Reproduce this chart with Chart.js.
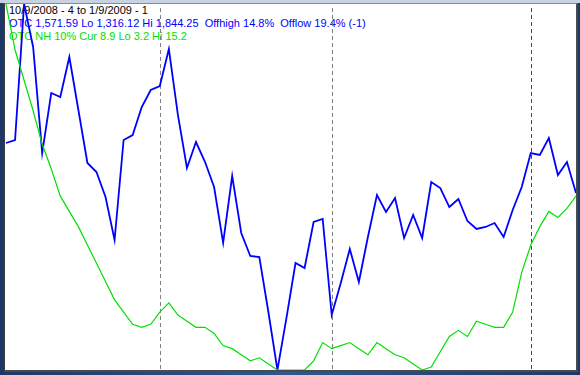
<!DOCTYPE html>
<html>
<head>
<meta charset="utf-8">
<script src="https://cdn.jsdelivr.net/npm/chart.js@4/dist/chart.umd.min.js"></script>
<style>
  html, body { margin: 0; padding: 0; }
  body { width: 580px; height: 375px; overflow: hidden; position: relative;
         background: linear-gradient(90deg, #1d3868, #2f5790 50%, #1d3868); }
  #topstrip { position: absolute; left: 0; top: 0; width: 580px; height: 3px; background: #c9d2e3; }
  #frame { position: absolute; left: 4px; top: 3px; width: 571px; height: 366px; background: #fff;
           border-top: 1px solid #8a8a8a; border-left: 1px solid #3c3c3c;
           border-right: 2px solid #4a4a4a; border-bottom: 2px solid #4a4a4a; overflow: hidden; }
  #info { position: absolute; left: 4px; top: 0px; font: 11px "Liberation Sans", Arial, sans-serif;
          line-height: 13px; white-space: pre; z-index: 0; }
  #wrap { position: absolute; left: 0; top: 0; width: 572px; height: 366px; z-index: 1; }
</style>
</head>
<body>
<div id="topstrip"></div>
<div id="frame">
  <div id="info"><div style="color:#000">10/9/2008 - 4 to 1/9/2009 - 1</div><div style="color:#0000ff">OTC 1,571.59 Lo 1,316.12 Hi 1,844.25  Offhigh 14.8%  Offlow 19.4% (-1)</div><div style="color:#00dd00">OTC NH 10% Cur 8.9 Lo 3.2 Hi 15.2</div></div>
  <div id="wrap"><canvas id="chart"></canvas></div>
</div>
<script>
// trading days 10/9/2008 .. 1/9/2009
var days = ['10/9','10/10','10/13','10/14','10/15','10/16','10/17','10/20','10/21','10/22','10/23','10/24',
  '10/27','10/28','10/29','10/30','10/31',
  '11/3','11/4','11/5','11/6','11/7','11/10','11/11','11/12','11/13','11/14','11/17','11/18','11/19','11/20','11/21',
  '11/24','11/25','11/26','11/28',
  '12/1','12/2','12/3','12/4','12/5','12/8','12/9','12/10','12/11','12/12','12/15','12/16','12/17','12/18','12/19',
  '12/22','12/23','12/24','12/26','12/29','12/30','12/31',
  '1/2','1/5','1/6','1/7','1/8','1/9'];

// OTC close
var otc = [1643.7,1648.0,1844.25,1782.2,1629.2,1715.8,1710.0,1767.8,1691.3,1614.8,1601.8,1565.8,
  1503.7,1648.0,1655.2,1695.6,1720.2,
  1725.9,1779.3,1684.1,1607.6,1645.1,1616.2,1580.2,1499.4,1596.0,1513.8,1480.6,1479.2,1399.8,1316.12,1391.2,
  1470.5,1463.3,1529.7,1534.0,
  1395.5,1441.6,1490.7,1443.1,1508.0,1568.6,1544.1,1564.3,1506.6,1539.8,1506.6,1587.4,1578.7,1551.3,1562.9,
  1531.1,1519.6,1522.5,1528.2,1508.0,1547.0,1580.2,
  1629.2,1626.4,1650.9,1597.5,1616.2,1571.59];

// OTC new highs 10%
var nh = [15.2,13.7,12.7,11.7,10.6,9.8,8.9,8.4,7.9,7.3,6.7,6.1,
  5.5,5.1,4.7,4.6,4.7,
  5.1,5.4,5.0,4.8,4.6,4.6,4.4,4.0,3.9,3.7,3.5,3.6,3.4,3.2,3.2,
  3.2,3.2,3.5,4.1,
  3.9,4.0,4.1,3.9,3.7,4.1,3.9,3.7,3.6,3.4,3.2,3.3,3.8,4.3,4.5,
  4.3,4.8,4.7,4.6,4.6,5.1,6.4,
  7.3,7.9,8.4,8.2,8.5,8.9];

var otcLo = 1316.12, otcHi = 1844.25;
var nhLo = 3.2, nhHi = 15.2;

// month separators
var markers = ['11/3', '12/1', '1/2'];
var markerColors = ['#808080', '#808080', '#ff0000'];

var markerPlugin = {
  id: 'markers',
  beforeDatasetsDraw: function(chart) {
    var ctx = chart.ctx;
    var xs = chart.scales.x;
    var area = chart.chartArea;
    ctx.save();
    ctx.lineWidth = 1;
    ctx.setLineDash([4, 3]);
    markers.forEach(function(m, i) {
      var x = Math.round(xs.getPixelForValue(days.indexOf(m))) + 0.5;
      ctx.strokeStyle = markerColors[i];
      ctx.beginPath();
      ctx.moveTo(x, area.top + 4);
      ctx.lineTo(x, area.bottom);
      ctx.stroke();
    });
    ctx.restore();
  }
};

var ctx = document.getElementById('chart').getContext('2d');
new Chart(ctx, {
  type: 'line',
  data: {
    labels: days,
    datasets: [
      {
        label: 'OTC NH 10%',
        data: nh,
        yAxisID: 'y2',
        borderColor: '#00e000',
        borderWidth: 1.2,
        pointRadius: 0,
        tension: 0,
        fill: false,
        clip: false
      },
      {
        label: 'OTC',
        data: otc,
        yAxisID: 'y',
        borderColor: '#0000ff',
        borderWidth: 1.8,
        pointRadius: 0,
        tension: 0,
        fill: false,
        clip: false
      }
    ]
  },
  options: {
    responsive: true,
    maintainAspectRatio: false,
    animation: false,
    layout: { padding: { left: 1, right: 1, top: 0, bottom: 0 } },
    plugins: { legend: { display: false }, tooltip: { enabled: false } },
    scales: {
      x: { display: false, offset: false },
      y: { display: false, min: otcLo, max: otcHi },
      y2: { display: false, min: nhLo, max: nhHi }
    }
  },
  plugins: [markerPlugin]
});
</script>
</body>
</html>
